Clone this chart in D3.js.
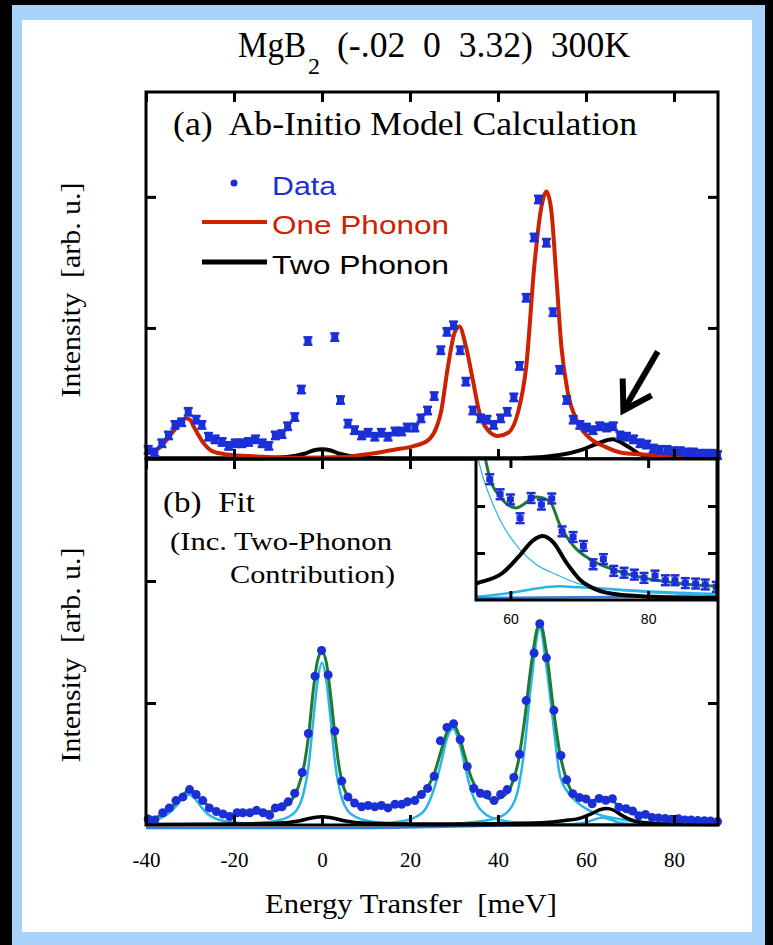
<!DOCTYPE html>
<html>
<head>
<meta charset="utf-8">
<script src="https://cdnjs.cloudflare.com/ajax/libs/d3/7.8.5/d3.min.js"></script>
<style>
  body { margin: 0; background: #000; }
  text { white-space: pre; }
</style>
</head>
<body>
<script>
// MgB2 phonon spectra, panel (a) model vs data, panel (b) fit with inset
const W = 773, H = 945;
const SERIF = "'Liberation Serif', 'Times New Roman', serif";
const SANS = "'Liberation Sans', Arial, sans-serif";
const BLUE = "#1a2fd6", RED = "#cc2200", GREEN = "#1f7a32", CYAN = "#2ab4ea", BG_BLUE = "#2f7ee6";

const X_TICKS = [-40, -20, 0, 20, 40, 60, 80];
const Y_TICKS = [1, 2];
const INSET_X_TICKS = [60, 80];
const INSET_Y_TICKS = [0.1, 0.2];

// panel (a) measured data
const energyA = [-39.5, -38.0, -36.4, -34.9, -33.4, -31.9, -30.4, -28.6, -27.3, -25.8, -24.3, -22.7, -21.2, -19.7, -18.2, -16.7, -15.1, -13.6, -12.1, -10.6, -9.1, -7.8, -6.2, -4.7, -3.2, 2.9, 4.2, 5.9, 7.4, 9.0, 10.5, 12.0, 13.5, 15.0, 16.6, 18.1, 19.4, 21.1, 22.5, 24.0, 25.5, 27.0, 28.4, 29.9, 31.4, 32.7, 34.3, 36.0, 37.5, 39.0, 40.6, 42.1, 43.6, 44.9, 46.4, 48.2, 49.2, 51.0, 52.5, 54.0, 55.6, 57.1, 58.6, 60.1, 61.6, 63.1, 64.7, 66.2, 67.7, 69.2, 70.8, 72.3, 73.8, 75.3, 76.8, 78.4, 79.9, 81.4, 82.9, 84.4, 85.9, 87.4, 88.9, 89.9];
const intensityA = [.07, .05, .12, .18, .26, .28, .36, .30, .26, .17, .15, .13, .10, .12, .12, .13, .15, .12, .10, .18, .19, .25, .32, .53, .90, .93, .45, .27, .22, .18, .20, .17, .20, .17, .21, .21, .24, .24, .31, .37, .48, .83, .97, 1.02, .83, .59, .37, .31, .30, .26, .31, .36, .47, .71, 1.23, 1.69, 1.98, 1.65, 1.12, .68, .45, .30, .26, .24, .22, .25, .24, .25, .18, .17, .15, .12, .11, .08, .07, .07, .06, .06, .05, .05, .04, .04, .04, .03];
const errA = 0.03;

// panel (a) model curves [energy, intensity]
const onePhononA = [[-40, .04], [-36.8, .09], [-33.8, .21], [-32, .28], [-31, .31], [-30, .30], [-29.2, .25], [-26.9, .12], [-24.7, .056], [-21.6, .035], [-15, .02], [-5, .01], [5, .015], [8.8, .03], [13, .05], [16.4, .07], [21, .10], [24, .14], [26, .24], [27, .35], [28.6, .70], [30.1, .96], [31.2, 1.01], [32.7, .86], [34.3, .60], [35.8, .35], [37.7, .22], [40, .175], [42.3, .20], [44.5, .35], [46.4, .70], [48.3, 1.49], [49.9, 1.93], [51.0, 2.04], [52.1, 1.90], [53.3, 1.37], [54.4, .86], [55.9, .50], [57.8, .30], [60.5, .17], [64.3, .094], [68.1, .048], [75.7, .03], [90, .02]];
const twoPhononA = [[-40, .005], [-15, .005], [-8, .015], [-4, .04], [-2, .065], [0, .075], [2, .065], [4, .04], [8, .015], [15, .005], [45, .005], [54, .03], [59, .07], [62.8, .12], [66, .15], [69.6, .094], [72.7, .03], [77, .008], [90, .005]];

// panel (b) measured data (inset shows the same points magnified)
const energyB = [-39.5, -38.0, -36.2, -34.7, -33.2, -31.6, -30.1, -28.6, -27.1, -25.6, -24.0, -22.5, -21.0, -19.3, -18.0, -16.4, -14.9, -13.4, -11.9, -10.6, -9.1, -7.7, -6.2, -4.5, -3.1, -1.6, -0.1, 1.4, 2.9, 4.5, 5.9, 7.4, 9.0, 10.5, 12.0, 13.5, 15.0, 16.6, 18.1, 19.4, 21.1, 22.6, 24.0, 25.5, 26.9, 28.4, 29.9, 31.4, 33.0, 34.5, 36.0, 37.5, 39.1, 40.6, 42.1, 43.6, 44.9, 46.4, 48.2, 49.5, 51.0, 52.7, 54.3, 55.6, 57.0, 58.5, 60.0, 61.4, 63.0, 64.5, 66.0, 67.5, 69.1, 70.6, 72.0, 73.5, 75.0, 76.5, 78.0, 79.4, 81.0, 82.5, 83.9, 85.4, 86.9, 88.3, 89.9];
const intensityB = [.05, .04, .10, .14, .20, .23, .29, .25, .20, .14, .11, .09, .07, .10, .10, .10, .12, .10, .08, .14, .15, .19, .26, .43, .75, 1.22, 1.43, 1.23, .77, .36, .23, .18, .15, .16, .15, .16, .14, .17, .17, .19, .20, .25, .30, .40, .69, .80, .83, .70, .48, .30, .26, .25, .20, .25, .29, .39, .58, 1.02, 1.41, 1.65, 1.37, .94, .57, .37, .257, .225, .214, .174, .217, .203, .216, .146, .134, .115, .076, .087, .062, .058, .054, .047, .052, .042, .042, .036, .035, .033, .028];
const errB = 0.011;

// panel (b) fit components [energy, intensity]
const fitTotalB = [[-40, .05], [-38, .06], [-36, .09], [-34, .15], [-32, .23], [-30.3, .28], [-28.5, .24], [-26.5, .18], [-25, .13], [-23, .10], [-21, .085], [-18, .09], [-15, .10], [-12, .11], [-9, .14], [-7, .20], [-5.5, .30], [-4, .50], [-3, .75], [-2, 1.10], [-1, 1.35], [0, 1.42], [1, 1.33], [2, 1.05], [3, .72], [4, .45], [5, .30], [6.5, .21], [8, .17], [10, .15], [13, .15], [16, .16], [19, .19], [22, .24], [24, .31], [25.5, .42], [27, .60], [28.5, .77], [29.8, .83], [31, .75], [32.5, .56], [34, .38], [35.5, .28], [37, .23], [39, .21], [41, .23], [43, .32], [44.5, .50], [46, .85], [47.5, 1.30], [49.5, 1.66], [51, 1.42], [52.5, .98], [54, .60], [55.5, .38], [57, .26], [58.5, .22], [60.8, .196], [63.75, .219], [65.7, .21], [67.2, .159], [69.1, .116], [72, .083], [74.9, .065], [79.3, .047], [84.1, .036], [89.9, .029]];
const peakM30 = [[-40, .02], [-37, .05], [-35, .09], [-33, .16], [-31.5, .23], [-30.3, .25], [-29, .22], [-27.5, .15], [-26, .09], [-24, .05], [-21, .025], [-15, .01], [-8, .005]];
const peak0 = [[-20, .01], [-12, .025], [-8, .06], [-6, .11], [-4.5, .22], [-3, .50], [-2, .85], [-1, 1.18], [0, 1.33], [1, 1.18], [2, .85], [3, .50], [4.5, .22], [6, .11], [8, .06], [12, .025], [20, .01]];
const peak30 = [[12, .01], [18, .03], [21, .06], [23.5, .13], [25.5, .30], [27, .50], [28.5, .72], [29.8, .79], [31, .70], [32.5, .48], [34, .27], [35.5, .15], [37.5, .08], [40, .045], [45, .02], [55, .008]];
const peak50 = [[30, .01], [36, .03], [40, .06], [42.5, .12], [44.5, .28], [46, .62], [47.5, 1.15], [49.5, 1.61], [51, 1.30], [52.5, .85], [54, .42], [55.6, .283], [57.1, .217], [58.9, .159], [61.3, .109], [63.7, .076], [66.7, .054], [69.6, .036], [75, .022], [82, .014], [90, .01]];
const peak64 = [[52, .002], [56, .006], [59, .015], [61.5, .04], [63.5, .06], [65.5, .045], [67.5, .02], [70, .008], [75, .003], [90, .001]];
const broadInsetB = [[50, .003], [55, .007], [60, .015], [64, .025], [67, .029], [70, .027], [76, .022], [82, .017], [90, .013]];
const backgroundB = [[-40, -.025], [11.5, -.024], [30, -.012], [55, .004], [90, .008]];
const twoPhononB = [[-40, .004], [-20, .008], [-10, .014], [-5, .035], [-2, .06], [0, .068], [2, .06], [5, .035], [10, .014], [20, .008], [40, .01], [50, .018], [55.2, .036], [58.9, .058], [61.3, .094], [63.3, .127], [64.7, .136], [66.2, .123], [68.1, .08], [70.1, .043], [72.5, .022], [75.9, .011], [80.8, .007], [90, .004]];

const svg = d3.select("body").append("svg").attr("width", W).attr("height", H);

// page border
svg.append("rect").attr("width", W).attr("height", H).attr("fill", "#000");
svg.append("rect").attr("x", 12).attr("y", 5).attr("width", 753).attr("height", 940).attr("fill", "#a7d3fb");
svg.append("rect").attr("x", 22).attr("y", 20).attr("width", 730).attr("height", 912).attr("fill", "#fff");

// scales
const x = d3.scaleLinear().domain([-40, 90]).range([146, 718]);
const yA = d3.scaleLinear().domain([0, 2.8]).range([459, 92]);
const yB = d3.scaleLinear().domain([0, 3]).range([825, 459]);
const xi = d3.scaleLinear().domain([55, 90]).range([476, 717]);
const yi = d3.scaleLinear().domain([0, 0.3]).range([600, 459]);

const zip = (es, vs) => es.map((e, i) => ({ e: e, v: vs[i] }));
const dataA = zip(energyA, intensityA);
const dataB = zip(energyB, intensityB);

function lineFor(xs, ys) {
  return d3.line().x(d => xs(d[0])).y(d => ys(d[1])).curve(d3.curveMonotoneX);
}

function drawCurve(g, pts, xs, ys, color, width) {
  g.append("path").datum(pts)
    .attr("d", lineFor(xs, ys))
    .attr("fill", "none").attr("stroke", color).attr("stroke-width", width)
    .attr("stroke-linejoin", "round");
}

// hourglass style markers with error bars
function drawErrMarkers(g, data, xs, ys, err) {
  const m = g.selectAll("g.m").data(data).join("g").attr("class", "m")
    .attr("transform", d => `translate(${xs(d.e)},0)`);
  m.append("rect").attr("x", -1.5).attr("width", 3)
    .attr("y", d => ys(d.v + err)).attr("height", d => ys(d.v - err) - ys(d.v + err)).attr("fill", BLUE);
  m.append("rect").attr("x", -4.5).attr("width", 9).attr("height", 2.5)
    .attr("y", d => ys(d.v + err) - 1).attr("fill", BLUE);
  m.append("rect").attr("x", -4.5).attr("width", 9).attr("height", 2.5)
    .attr("y", d => ys(d.v - err) - 1.5).attr("fill", BLUE);
  m.append("rect").attr("x", -3.5).attr("width", 7).attr("height", 6)
    .attr("y", d => ys(d.v) - 3).attr("fill", BLUE);
}

function styleTicks(g) {
  g.select(".domain").remove();
  g.selectAll(".tick line").attr("stroke", "#000").attr("stroke-width", 3);
}

function frameAxes(xs, ys, xt, yt, top, bottom, left, right, tick) {
  const noLab = "";
  svg.append("g").attr("transform", `translate(0,${bottom})`)
    .call(d3.axisBottom(xs).tickValues(xt).tickSizeInner(-tick).tickSizeOuter(0).tickFormat(noLab)).call(styleTicks);
  svg.append("g").attr("transform", `translate(0,${top})`)
    .call(d3.axisTop(xs).tickValues(xt).tickSizeInner(-tick).tickSizeOuter(0).tickFormat(noLab)).call(styleTicks);
  svg.append("g").attr("transform", `translate(${left},0)`)
    .call(d3.axisLeft(ys).tickValues(yt).tickSizeInner(-tick).tickSizeOuter(0).tickFormat(noLab)).call(styleTicks);
  svg.append("g").attr("transform", `translate(${right},0)`)
    .call(d3.axisRight(ys).tickValues(yt).tickSizeInner(-tick).tickSizeOuter(0).tickFormat(noLab)).call(styleTicks);
  svg.append("rect").attr("x", left).attr("y", top).attr("width", right - left).attr("height", bottom - top)
    .attr("fill", "none").attr("stroke", "#000").attr("stroke-width", 3);
}

// ---------- panel (a) ----------
const gA = svg.append("g");
drawCurve(gA, twoPhononA, x, yA, "#000", 4);
drawCurve(gA, onePhononA, x, yA, RED, 4);
drawErrMarkers(gA, dataA, x, yA, errA);
frameAxes(x, yA, X_TICKS, Y_TICKS, 92, 459, 146, 718, 10);

svg.append("text").attr("x", 173).attr("y", 135)
  .attr("font-family", SERIF).attr("font-size", 33)
  .attr("textLength", 464).attr("lengthAdjust", "spacingAndGlyphs")
  .text("(a)  Ab-Initio Model Calculation");

// legend
svg.append("circle").attr("cx", 234).attr("cy", 183).attr("r", 3.5).attr("fill", BLUE);
svg.append("text").attr("x", 272).attr("y", 195).attr("font-family", SANS).attr("font-size", 26)
  .attr("fill", BLUE).attr("textLength", 64).attr("lengthAdjust", "spacingAndGlyphs").text("Data");
svg.append("line").attr("x1", 202).attr("x2", 267).attr("y1", 222).attr("y2", 222).attr("stroke", RED).attr("stroke-width", 4);
svg.append("text").attr("x", 272).attr("y", 234).attr("font-family", SANS).attr("font-size", 26)
  .attr("fill", RED).attr("textLength", 177).attr("lengthAdjust", "spacingAndGlyphs").text("One Phonon");
svg.append("line").attr("x1", 202).attr("x2", 267).attr("y1", 262).attr("y2", 262).attr("stroke", "#000").attr("stroke-width", 5);
svg.append("text").attr("x", 272).attr("y", 274).attr("font-family", SANS).attr("font-size", 26)
  .attr("fill", "#000").attr("textLength", 177).attr("lengthAdjust", "spacingAndGlyphs").text("Two Phonon");

// arrow pointing at the two-phonon bump
const ARROW_TIP = [68.5, 0.37], ARROW_TAIL = [76.3, 0.82];
{
  const tx = x(ARROW_TIP[0]), ty = yA(ARROW_TIP[1]);
  const sx = x(ARROW_TAIL[0]), sy = yA(ARROW_TAIL[1]);
  const ang = Math.atan2(sy - ty, sx - tx);
  const hl = 32, spread = 0.55;
  svg.append("line").attr("x1", sx).attr("y1", sy).attr("x2", tx + 4 * Math.cos(ang)).attr("y2", ty + 4 * Math.sin(ang))
    .attr("stroke", "#000").attr("stroke-width", 6);
  svg.append("polyline")
    .attr("points", [[tx + hl * Math.cos(ang - spread), ty + hl * Math.sin(ang - spread)], [tx, ty],
      [tx + hl * Math.cos(ang + spread), ty + hl * Math.sin(ang + spread)]].map(p => p.join(",")).join(" "))
    .attr("fill", "none").attr("stroke", "#000").attr("stroke-width", 6).attr("stroke-linejoin", "miter");
}

// ---------- panel (b) ----------
const gB = svg.append("g");
[peakM30, peak0, peak30, peak50, peak64].forEach(p => drawCurve(gB, p, x, yB, CYAN, 2.5));
drawCurve(gB, backgroundB, x, yB, BG_BLUE, 2.5);
drawCurve(gB, twoPhononB, x, yB, "#000", 3.5);
drawCurve(gB, fitTotalB, x, yB, GREEN, 3);
gB.selectAll("circle.d").data(dataB).join("circle").attr("class", "d")
  .attr("cx", d => x(d.e)).attr("cy", d => yB(d.v)).attr("r", 4.5).attr("fill", BLUE);
frameAxes(x, yB, X_TICKS, Y_TICKS, 459, 825, 146, 718, 10);

// x tick labels (plain hyphen minus as in the original)
const xAxisB = svg.append("g").attr("transform", "translate(0,825)")
  .call(d3.axisBottom(x).tickValues(X_TICKS).tickSize(0).tickPadding(27).tickFormat(d => String(d)));
xAxisB.select(".domain").remove();
xAxisB.selectAll("text").attr("font-family", SERIF).attr("font-size", 21).attr("fill", "#000");

svg.append("text").attr("x", 163).attr("y", 512).attr("font-family", SERIF).attr("font-size", 30)
  .attr("textLength", 92).attr("lengthAdjust", "spacingAndGlyphs").text("(b)  Fit");
svg.append("text").attr("x", 170).attr("y", 550).attr("font-family", SERIF).attr("font-size", 25)
  .attr("textLength", 222).attr("lengthAdjust", "spacingAndGlyphs").text("(Inc. Two-Phonon");
svg.append("text").attr("x", 230).attr("y", 583).attr("font-family", SERIF).attr("font-size", 25)
  .attr("textLength", 165).attr("lengthAdjust", "spacingAndGlyphs").text("Contribution)");

// ---------- inset ----------
svg.append("rect").attr("x", 476).attr("y", 459).attr("width", 241).attr("height", 141).attr("fill", "#fff");
svg.append("clipPath").attr("id", "insetClip").append("rect")
  .attr("x", 476).attr("y", 459).attr("width", 241).attr("height", 141);
const gI = svg.append("g").attr("clip-path", "url(#insetClip)");
drawCurve(gI, peak50, xi, yi, CYAN, 1.2);
drawCurve(gI, broadInsetB, xi, yi, CYAN, 2.5);
drawCurve(gI, backgroundB, xi, yi, BG_BLUE, 2.5);
drawCurve(gI, twoPhononB, xi, yi, "#000", 4);
drawCurve(gI, fitTotalB, xi, yi, GREEN, 3);
drawErrMarkers(gI, dataB.filter(d => d.e >= 55), xi, yi, errB);
frameAxes(xi, yi, INSET_X_TICKS, INSET_Y_TICKS, 459, 600, 476, 717, 9);
const insetLab = svg.append("g").attr("transform", "translate(0,600)")
  .call(d3.axisBottom(xi).tickValues(INSET_X_TICKS).tickSize(0).tickPadding(14));
insetLab.select(".domain").remove();
insetLab.selectAll("text").attr("font-family", SANS).attr("font-size", 14).attr("fill", "#000");

// ---------- titles ----------
svg.append("text").attr("x", 238).attr("y", 57).attr("font-family", SERIF).attr("font-size", 35)
  .attr("textLength", 68).attr("lengthAdjust", "spacingAndGlyphs").text("MgB");
svg.append("text").attr("x", 308).attr("y", 74).attr("font-family", SERIF).attr("font-size", 24).text("2");
svg.append("text").attr("x", 337).attr("y", 57).attr("font-family", SERIF).attr("font-size", 35)
  .attr("textLength", 293).attr("lengthAdjust", "spacingAndGlyphs").text("(-.02  0  3.32)  300K");

svg.append("text").attr("x", 411).attr("y", 913).attr("text-anchor", "middle")
  .attr("font-family", SERIF).attr("font-size", 28)
  .attr("textLength", 292).attr("lengthAdjust", "spacingAndGlyphs").text("Energy Transfer  [meV]");

[290, 655].forEach(cy => {
  svg.append("text").attr("transform", `translate(80,${cy}) rotate(-90)`).attr("text-anchor", "middle")
    .attr("font-family", SERIF).attr("font-size", 28)
    .attr("textLength", 215).attr("lengthAdjust", "spacingAndGlyphs").text("Intensity  [arb. u.]");
});
</script>
</body>
</html>
